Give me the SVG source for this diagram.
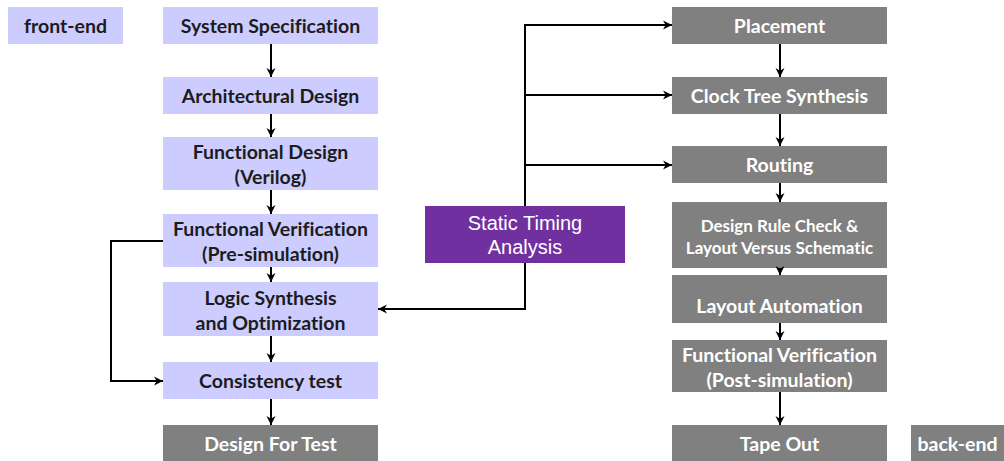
<svg xmlns="http://www.w3.org/2000/svg" width="1004" height="461" viewBox="0 0 1004 461">
  <style>
    .fe { fill: #CCCCFF; }
    .be { fill: #808080; }
    .sta { fill: #7030A0; }
    text { font-family: Lato, "Open Sans", "Liberation Sans", sans-serif; font-weight: bold; font-size: 19.5px; text-anchor: middle; dominant-baseline: central; font-variant-ligatures: none; }
    .dark { fill: #1c1c1c; }
    .light { fill: #ffffff; }
    .sm { font-size: 17px; }
    .arial { font-family: "Liberation Sans", Arial, sans-serif; font-weight: normal; font-size: 20px; fill: #ffffff; }
    .wire { fill: none; stroke: #000; stroke-width: 2; }
  </style>
  <defs>
    <marker id="arrow" viewBox="0 0 10 10" refX="10" refY="5" markerWidth="9" markerHeight="9" orient="auto" markerUnits="userSpaceOnUse" overflow="visible">
      <path d="M0,0 L10,5 L0,10 L3,5 z" fill="#000"/>
    </marker>
  </defs>
  <rect width="1004" height="461" fill="#ffffff"/>

  <!-- front-end column -->
  <g id="front-end-label"><rect class="fe" x="8" y="7" width="115" height="37"/><text class="dark" x="65.5" y="25.5">front-end</text></g>
  <g id="system-spec"><rect class="fe" x="163" y="7" width="215" height="37"/><text class="dark" x="270.5" y="25.5">System Specification</text></g>
  <g id="arch-design"><rect class="fe" x="163" y="77" width="215" height="37"/><text class="dark" x="270.5" y="95.5">Architectural Design</text></g>
  <g id="func-design"><rect class="fe" x="163" y="137" width="215" height="53"/><text class="dark" x="270.5" y="151.5">Functional Design</text><text class="dark" x="270.5" y="176.5">(Verilog)</text></g>
  <g id="func-verif-pre"><rect class="fe" x="163" y="214" width="215" height="53"/><text class="dark" x="270.5" y="228.5">Functional Verification</text><text class="dark" x="270.5" y="253.5">(Pre-simulation)</text></g>
  <g id="logic-synth"><rect class="fe" x="163" y="282" width="215" height="54"/><text class="dark" x="270.5" y="297">Logic Synthesis</text><text class="dark" x="270.5" y="322">and Optimization</text></g>
  <g id="consistency"><rect class="fe" x="163" y="362" width="215" height="37"/><text class="dark" x="270.5" y="380.5">Consistency test</text></g>
  <g id="dft"><rect class="be" x="163" y="425" width="215" height="36"/><text class="light" x="270.5" y="443.5">Design For Test</text></g>

  <!-- static timing analysis -->
  <g id="sta"><rect class="sta" x="425" y="206" width="200" height="57"/><text class="arial" x="525" y="223">Static Timing</text><text class="arial" x="525" y="247">Analysis</text></g>

  <!-- back-end column -->
  <g id="placement"><rect class="be" x="672" y="7" width="215" height="37"/><text class="light" x="779.5" y="25.5">Placement</text></g>
  <g id="cts"><rect class="be" x="672" y="77" width="215" height="37"/><text class="light" x="779.5" y="95.5">Clock Tree Synthesis</text></g>
  <g id="routing"><rect class="be" x="672" y="146" width="215" height="37"/><text class="light" x="779.5" y="164.5">Routing</text></g>
  <g id="drc-lvs"><rect class="be" x="672" y="202" width="215" height="66"/><text class="light sm" x="779.5" y="225">Design Rule Check &amp;</text><text class="light sm" x="779.5" y="247">Layout Versus Schematic</text></g>
  <g id="layout-auto"><rect class="be" x="672" y="275" width="215" height="48"/><text class="light" x="779.5" y="305">Layout Automation</text></g>
  <g id="func-verif-post"><rect class="be" x="672" y="340" width="215" height="52"/><text class="light" x="779.5" y="354">Functional Verification</text><text class="light" x="779.5" y="379">(Post-simulation)</text></g>
  <g id="tape-out"><rect class="be" x="672" y="425" width="215" height="36"/><text class="light" x="779.5" y="443.5">Tape Out</text></g>
  <g id="back-end-label"><rect class="be" x="911" y="425" width="93" height="36"/><text class="light" x="957.5" y="443.5">back-end</text></g>

  <!-- connectors -->
  <g id="connectors">
    <path class="wire" marker-end="url(#arrow)" d="M271,44 V77"/>
    <path class="wire" marker-end="url(#arrow)" d="M271,114 V137"/>
    <path class="wire" marker-end="url(#arrow)" d="M271,190 V214"/>
    <path class="wire" marker-end="url(#arrow)" d="M271,267 V282"/>
    <path class="wire" marker-end="url(#arrow)" d="M271,336 V362"/>
    <path class="wire" marker-end="url(#arrow)" d="M271,399 V425"/>
    <path class="wire" marker-end="url(#arrow)" d="M163,241 H111 V381 H163"/>

    <path class="wire" marker-end="url(#arrow)" d="M525,206 V25 H672"/>
    <path class="wire" marker-end="url(#arrow)" d="M525,95 H672"/>
    <path class="wire" marker-end="url(#arrow)" d="M525,165 H672"/>
    <path class="wire" marker-end="url(#arrow)" d="M525,263 V309 H378"/>

    <path class="wire" marker-end="url(#arrow)" d="M780,44 V77"/>
    <path class="wire" marker-end="url(#arrow)" d="M780,114 V146"/>
    <path class="wire" marker-end="url(#arrow)" d="M780,183 V202"/>
    <path class="wire" marker-end="url(#arrow)" d="M780,268 V275"/>
    <path class="wire" marker-end="url(#arrow)" d="M780,323 V340"/>
    <path class="wire" marker-end="url(#arrow)" d="M780,392 V425"/>
  </g>
</svg>
